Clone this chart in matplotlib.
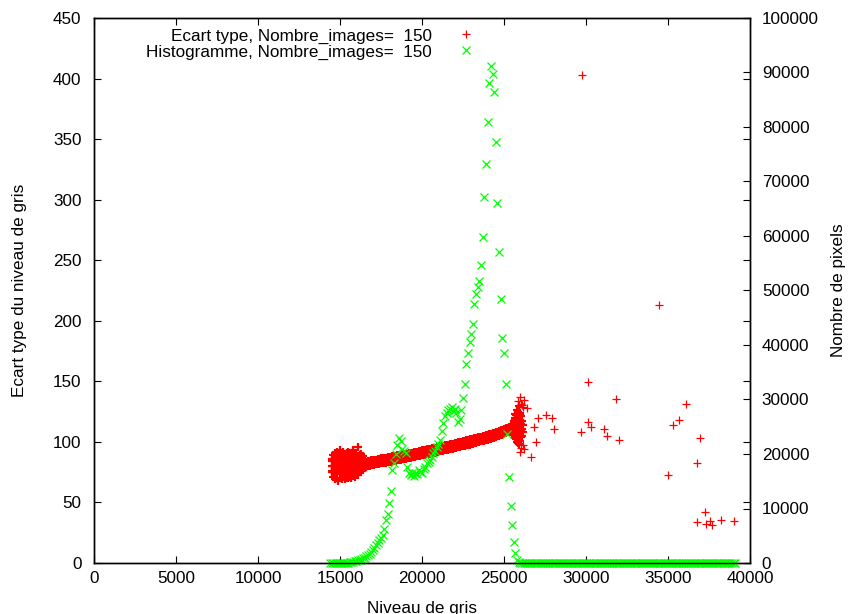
import matplotlib
matplotlib.use("Agg")
import matplotlib.pyplot as plt
import numpy as np

plt.rcParams['font.family'] = ['Liberation Sans', 'DejaVu Sans']
plt.rcParams['font.size'] = 12.3

# --- Ecart type (axe de gauche) ---
# niveaux de gris de la bande continue
ecart_x = np.arange(14500, 25600, 100)
ecart_bas = [
    75, 71, 69, 70, 68, 70, 69, 71, 69, 70,
    70, 71, 70, 72, 71, 73, 73, 75, 76, 77,
    78.5, 79.4, 80.1, 80.2, 80.8, 80.9, 81.1, 81.5, 81.6, 81.9,
    82.3, 82.3, 82.8, 82.9, 83.1, 83.5, 83.6, 84.0, 84.3, 84.4,
    84.8, 85.1, 85.2, 85.6, 85.9, 86.0, 86.4, 86.6, 86.9, 87.2,
    87.4, 87.8, 88.0, 88.4, 88.5, 88.9, 89.3, 89.4, 89.8, 90.0,
    90.4, 90.6, 91.0, 91.2, 91.6, 91.8, 92.2, 92.5, 92.7, 93.1,
    93.3, 93.7, 93.9, 94.3, 94.5, 94.9, 95.1, 95.5, 95.8, 96.2,
    96.4, 96.9, 97.1, 97.6, 97.8, 98.3, 98.5, 99.0, 99.2, 99.7,
    99.9, 100.4, 100.6, 101.1, 101.4, 101.9, 102.2, 102.7, 103.0, 103.5,
    103.9, 104.5, 104.9, 105.5, 105.9, 106.6, 107.0, 107.8, 108.2, 109.0,
    109.2,
]
ecart_haut = [
    86, 89, 91, 92, 90, 93, 91, 92, 90, 91,
    92, 90, 91, 93, 90, 91, 96, 89, 90, 88,
    84.0, 83.7, 84.1, 84.2, 84.7, 84.8, 85.3, 85.4, 85.8, 85.8,
    86.3, 86.4, 86.6, 86.9, 87.3, 87.4, 87.6, 88.0, 88.2, 88.5,
    88.9, 89.0, 89.2, 89.6, 89.9, 90.1, 90.3, 90.7, 91.0, 91.2,
    91.6, 91.8, 92.0, 92.3, 92.7, 92.9, 93.1, 93.5, 93.9, 94.1,
    94.3, 94.7, 95.1, 95.3, 95.5, 95.9, 96.3, 96.5, 96.8, 97.1,
    97.5, 97.7, 98.0, 98.4, 98.6, 98.9, 99.3, 99.5, 99.9, 100.2,
    100.6, 100.9, 101.2, 101.6, 102.0, 102.3, 102.6, 103.0, 103.4, 103.7,
    104.0, 104.4, 104.8, 105.1, 105.5, 105.9, 106.4, 106.7, 107.1, 107.6,
    108.0, 108.5, 109.1, 109.5, 110.0, 110.6, 111.3, 111.8, 112.5, 113.0,
    114.2,
]

# amas de gauche (14500-16400), rangees interieures
amas_x = np.arange(14500, 16500, 100)
amas_1 = [76, 75, 76, 75, 76, 75, 76, 75, 76, 75,
          76, 75, 76, 75, 76, 77, 77, 78, 79, 80]
amas_2 = [80, 80, 81, 81, 80, 81, 81, 80, 80, 81,
          81, 80, 80, 81, 80, 81, 81, 81, 82, 82]
amas_3 = [84, 85, 86, 86, 85, 87, 86, 86, 85, 86,
          86, 85, 86, 87, 85, 86, 86, 85, 86, 85]

# pic dense vers 26000
pic_x = [25600, 25600, 25600, 25650, 25650, 25650, 25650,
         25700, 25700, 25700, 25700, 25700, 25750, 25750, 25750, 25750, 25750,
         25800, 25800, 25800, 25800, 25800, 25800, 25850, 25850, 25850, 25850, 25850, 25850,
         25900, 25900, 25900, 25900, 25900, 25900, 25900, 25950, 25950, 25950, 25950, 25950,
         26000, 26000, 26000, 26000, 26000, 26050, 26050, 26050, 26050,
         26100, 26100, 26100, 26150, 26150]
pic_y = [106, 112, 117, 105, 110, 115, 120,
         103, 108, 113, 118, 123, 102, 107, 112, 117, 122,
         100, 105, 110, 115, 120, 126, 99, 104, 109, 114, 119, 125,
         98, 104, 109, 114, 119, 124, 130, 101, 106, 112, 117, 123,
         101, 107, 113, 118, 124, 104, 110, 115, 121,
         105, 111, 117, 108, 114]

# points isoles
isoles_x = [25850, 25950, 26050, 26150, 25950, 26050,
            26220, 26120, 26390, 26850, 26940, 26670, 26140, 26220,
            27060, 27570, 27910, 28070, 29740, 29720, 30140, 30140,
            30310, 31080, 31300, 31830, 32000, 34470, 35000, 35290,
            35650, 36080, 36790, 36935, 37280, 36770, 37300, 37560,
            37700, 38250, 39030]
isoles_y = [134, 137, 131, 129, 92, 95,
            135, 130.5, 128, 112.5, 100, 87.5, 97.5, 94,
            119.5, 122, 120, 110.6, 403, 108.4, 149.2, 116.2,
            112, 110.4, 104.6, 135.2, 101.6, 213, 72.9, 114.2,
            117.8, 131, 82.3, 103.5, 41.9, 33.6, 32, 34.7,
            31.4, 35.3, 34.7]

# --- Histogramme (axe de droite) ---
hist_x = np.arange(14400, 39200, 100)  # centres des classes
hist_debut = [
    0, 0, 0, 0, 0, 0, 8, 15, 25, 40,
    60, 90, 130, 180, 240, 300, 380, 470, 580, 700,
    850, 1000, 1200, 1450, 1700, 2000, 2400, 2800, 3300, 3700,
    4200, 4600, 5100, 6200, 7800, 9000, 11000, 13300, 17100, 18300,
    20000, 21700, 22900, 22400, 21000, 20600, 20100, 17700, 16600, 16100,
    16500, 15900, 16600, 16300, 17100, 16700, 16500, 17200, 17700, 18300,
    18600, 18900, 19500, 20100, 20600, 21300, 21900, 22600, 24200, 25600,
    26900, 27500, 28000, 28200, 28700, 27800, 28300, 27500, 25900, 26400,
    28000, 30200, 32900, 36500, 38600, 40600, 42100, 43900, 47600, 49400,
    50700, 51800, 54600, 59900, 67200, 73200, 81000, 88100, 91200, 89700,
    86400, 77300, 66100, 57000, 48400, 41300, 38600, 32800, 23600, 15800,
    10500, 7000, 3900, 1800, 550, 150, 0,
]
# au-dela de 26000 le histogramme reste a zero
hist_y = hist_debut + [0] * (len(hist_x) - len(hist_debut))

rouge = '#ff0000'
vert = '#00ff00'

fig = plt.figure(figsize=(8.57, 6.14), dpi=100)
ax = fig.add_axes([94 / 857, 51 / 614, 656 / 857, 545 / 614])
ax2 = ax.twinx()

style_r = dict(linestyle='none', marker='+', color=rouge, ms=5.5, mew=0.9, clip_on=False)
dense_r = dict(style_r, ms=6, mew=1.6)
h_rouge, = ax.plot(isoles_x, isoles_y, **style_r)
ax.plot(ecart_x, ecart_bas, **dense_r)
ax.plot(ecart_x, ecart_haut, **dense_r)
ax.plot(amas_x, amas_1, **dense_r)
ax.plot(amas_x, amas_2, **dense_r)
ax.plot(amas_x, amas_3, **dense_r)
ax.plot(pic_x, pic_y, **dense_r)

h_vert, = ax2.plot(hist_x, hist_y, linestyle='none', marker='x', color=vert,
                   ms=5.5, mew=0.9, clip_on=False)

ax.set_xlim(0, 40000)
ax.set_ylim(0, 450)
ax2.set_ylim(0, 100000)
ax.set_xticks(np.arange(0, 40001, 5000))
ax.set_yticks(np.arange(0, 451, 50))
ax2.set_yticks(np.arange(0, 100001, 10000))

ax.tick_params(direction='in', length=5, width=0.8, top=True, right=True)
ax.tick_params(axis='x', pad=6)
ax.tick_params(axis='y', pad=9)
ax2.tick_params(direction='in', length=5, width=0.8, pad=8.5)

for a in (ax, ax2):
    for s in a.spines.values():
        s.set_linewidth(1.0)

ax.set_xlabel('Niveau de gris')
ax.set_ylabel('Ecart type du niveau de gris')
ax2.set_ylabel('Nombre de pixels')
ax.xaxis.set_label_coords(0.5, -0.069)
ax.yaxis.set_label_coords(-0.102, 0.5)
ax2.yaxis.set_label_coords(1.124, 0.5)

leg_opts = dict(loc='center right', bbox_transform=fig.transFigure, markerfirst=False,
                frameon=False, borderpad=0, borderaxespad=0, handlelength=2,
                handletextpad=1.0, numpoints=1)
leg1 = ax2.legend([h_rouge], ['Ecart type, Nombre_images=  150'],
                  bbox_to_anchor=(483 / 857, 1 - 36 / 614), **leg_opts)
ax2.add_artist(leg1)
ax2.legend([h_vert], ['Histogramme, Nombre_images=  150'],
           bbox_to_anchor=(483 / 857, 1 - 52 / 614), **leg_opts)

fig.savefig('out.png', dpi=100)
